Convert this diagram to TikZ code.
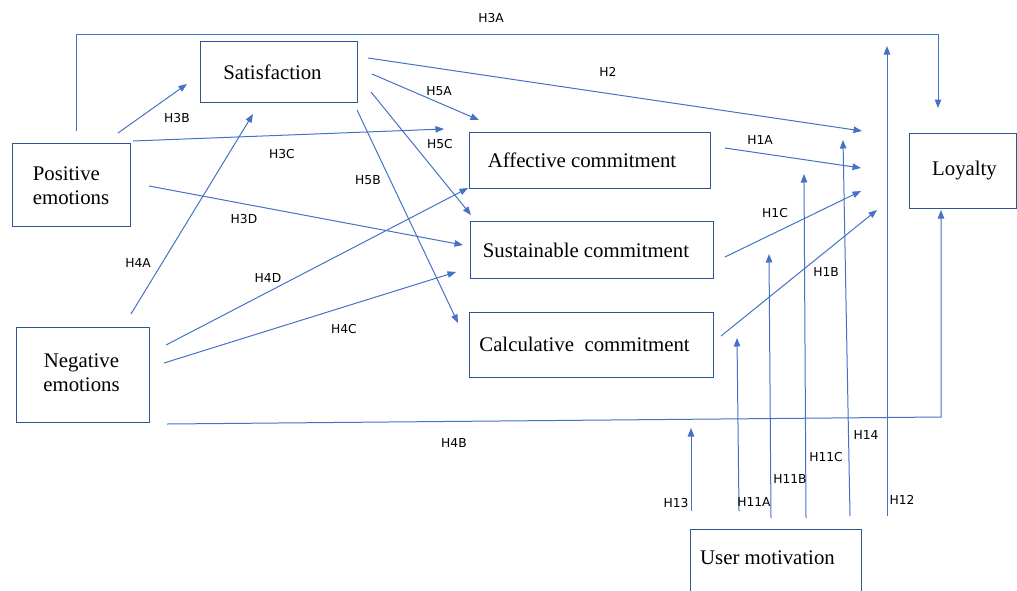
\documentclass[tikz,border=0pt]{standalone}
\usepackage{fontspec}
\setmainfont{Liberation Serif}
\newfontfamily\lblfont{DejaVu Sans}
\usetikzlibrary{arrows.meta}
\definecolor{ln}{HTML}{4472C4}
\definecolor{bx}{HTML}{2F5597}
\tikzset{
  box/.style={draw=bx, line width=1pt, inner sep=0pt},
  txt/.style={inner sep=0pt, font=\fontsize{20.8}{24}\selectfont, align=center},
  arr/.style={draw=ln, line width=1pt, -{Triangle[length=8.5pt,width=6.5pt]}},
  ln/.style={draw=ln, line width=1pt},
  lbl/.style={font=\lblfont\fontsize{12.3}{14}\selectfont, inner sep=0pt},
}
\begin{document}
\begin{tikzpicture}[x=1pt,y=-1pt]
\useasboundingbox (0,0) rectangle (1017,590);
% boxes
\node[box, minimum width=157pt, minimum height=61pt] (sat) at (278.5,71.5) {};
\node[txt] (satt) at (272.5,72) {Satisfaction};
\node[box, minimum width=118pt, minimum height=83pt] (pos) at (71,184.5) {};
\node[txt, align=left] (post) at (71,186) {Positive\\emotions};
\node[box, minimum width=133pt, minimum height=95pt] (neg) at (82.5,374.5) {};
\node[txt] (negt) at (81.5,373) {Negative\\emotions};
\node[box, minimum width=241pt, minimum height=56pt] (aff) at (589.5,160) {};
\node[txt] (afft) at (582,160) {Affective commitment};
\node[box, minimum width=243pt, minimum height=57pt] (sus) at (591.5,249.5) {};
\node[txt] (sust) at (586,250) {Sustainable commitment};
\node[box, minimum width=244pt, minimum height=65pt] (cal) at (591,344.5) {};
\node[txt] (calt) at (584.5,344) {Calculative\ \ commitment};
\node[box, minimum width=107pt, minimum height=75pt] (loy) at (962.5,170.5) {};
\node[txt] (loyt) at (964.5,171) {Loyalty};
\node[box, draw=none, minimum width=170pt, minimum height=60pt] (um) at (776,560) {};
\draw[ln, draw=bx] (um.south west) -- (um.north west) -- (um.north east) -- (um.south east);
\node[txt, anchor=west] (umt) at (700,558) {User motivation};
% coordinates
\coordinate (a3s) at (76,131); \coordinate (a3c1) at (76,34); \coordinate (a3c2) at (938,34); \coordinate (a3e) at (938,108);
\coordinate (b3s) at (118,133); \coordinate (b3e) at (187,84);
\coordinate (c3s) at (133,141); \coordinate (c3e) at (444,129);
\coordinate (d3s) at (149,186); \coordinate (d3e) at (463,245);
\coordinate (a4s) at (131,314); \coordinate (a4e) at (253,114);
\coordinate (d4s) at (166,345); \coordinate (d4e) at (468,188);
\coordinate (c4s) at (164,363); \coordinate (c4e) at (456,272);
\coordinate (b4s) at (167,424); \coordinate (b4c) at (941,417); \coordinate (b4e) at (941,210);
\coordinate (h2s) at (368,58); \coordinate (h2e) at (862,131);
\coordinate (a5s) at (372,74); \coordinate (a5e) at (479,120);
\coordinate (c5s) at (371,92); \coordinate (c5e) at (471,215);
\coordinate (b5s) at (357,110); \coordinate (b5e) at (458,323);
\coordinate (a1s) at (725,148); \coordinate (a1e) at (861,168);
\coordinate (c1s) at (725,257); \coordinate (c1e) at (861,191);
\coordinate (b1s) at (721,336); \coordinate (b1e) at (877,210);
\coordinate (h13s) at (691,511); \coordinate (h13e) at (691,428);
\coordinate (h11as) at (739,511); \coordinate (h11ae) at (737,338);
\coordinate (h11bs) at (771,518); \coordinate (h11be) at (769,254);
\coordinate (h11cs) at (806,518); \coordinate (h11ce) at (804,174);
\coordinate (h14s) at (850,516); \coordinate (h14e) at (843,140);
\coordinate (h12s) at (887,516); \coordinate (h12e) at (887,46);
% connectors
\draw[arr] (a3s) -- (a3c1) -- (a3c2) -- (a3e);
\draw[arr] (b3s) -- (b3e);
\draw[arr] (c3s) -- (c3e);
\draw[arr] (d3s) -- (d3e);
\draw[arr] (a4s) -- (a4e);
\draw[arr] (d4s) -- (d4e);
\draw[arr] (c4s) -- (c4e);
\draw[arr] (b4s) -- (b4c) -- (b4e);
\draw[arr] (h2s) -- (h2e);
\draw[arr] (a5s) -- (a5e);
\draw[arr] (c5s) -- (c5e);
\draw[arr] (b5s) -- (b5e);
\draw[arr] (a1s) -- (a1e);
\draw[arr] (c1s) -- (c1e);
\draw[arr] (b1s) -- (b1e);
\draw[arr] (h13s) -- (h13e);
\draw[arr] (h11as) -- (h11ae);
\draw[arr] (h11bs) -- (h11be);
\draw[arr] (h11cs) -- (h11ce);
\draw[arr] (h14s) -- (h14e);
\draw[arr] (h12s) -- (h12e);
% labels
\node[lbl] (l3a) at (491,18) {H3A};
\node[lbl] (l3b) at (177,118) {H3B};
\node[lbl] (l3c) at (282,154) {H3C};
\node[lbl] (l3d) at (244,219) {H3D};
\node[lbl] (l4a) at (138,263) {H4A};
\node[lbl] (l4d) at (268,278) {H4D};
\node[lbl] (l4c) at (344,329) {H4C};
\node[lbl] (l4b) at (454,443) {H4B};
\node[lbl] (l2) at (608,72) {H2};
\node[lbl] (l5a) at (439,91) {H5A};
\node[lbl] (l5c) at (440,144) {H5C};
\node[lbl] (l5b) at (368,180) {H5B};
\node[lbl] (l1a) at (760,140) {H1A};
\node[lbl] (l1c) at (775,213) {H1C};
\node[lbl] (l1b) at (826,272) {H1B};
\node[lbl] (l13) at (676,503) {H13};
\node[lbl] (l11a) at (754,502) {H11A};
\node[lbl] (l11b) at (790,479) {H11B};
\node[lbl] (l11c) at (826,457) {H11C};
\node[lbl] (l14) at (866,435) {H14};
\node[lbl] (l12) at (902,500) {H12};
\end{tikzpicture}
\end{document}
